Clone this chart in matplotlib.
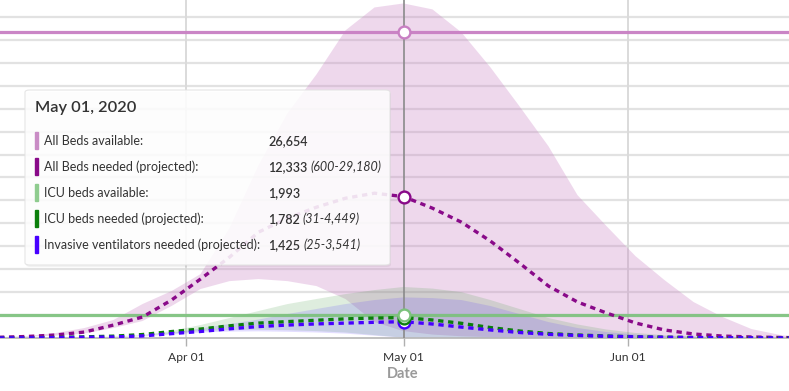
import numpy as np
import matplotlib
matplotlib.use('Agg')
import matplotlib.pyplot as plt
import matplotlib.dates as mdates
from matplotlib.patches import FancyBboxPatch

plt.rcParams['font.family'] = ['Lato', 'DejaVu Sans']

# sampled dates (every 4 days)
dates = np.array(['2020-03-06', '2020-03-10', '2020-03-14', '2020-03-18', '2020-03-22',
                  '2020-03-26', '2020-03-30', '2020-04-03', '2020-04-07', '2020-04-11',
                  '2020-04-15', '2020-04-19', '2020-04-23', '2020-04-27', '2020-05-01',
                  '2020-05-05', '2020-05-09', '2020-05-13', '2020-05-17', '2020-05-21',
                  '2020-05-25', '2020-05-29', '2020-06-02', '2020-06-06', '2020-06-10',
                  '2020-06-14', '2020-06-18', '2020-06-22', '2020-06-24'], dtype='datetime64[D]')

beds_needed = [60, 130, 260, 520, 1130, 1830, 3310, 5140, 7050, 9230, 10450, 11410, 12190, 12630, 12333,
               11320, 10100, 8450, 6530, 4530, 3140, 2180, 1310, 700, 350, 170, 90, 45, 30]
beds_upper = [60, 170, 430, 870, 1570, 2960, 4090, 5570, 9580, 15070, 19600, 22990, 26830, 28830, 29180,
              28660, 26650, 23600, 20210, 16720, 12460, 9760, 7140, 5050, 3140, 1830, 780, 260, 90]
beds_lower = [40, 100, 210, 400, 870, 1480, 2790, 4270, 4960, 5140, 4960, 4530, 3400, 1390, 600,
              300, 150, 80, 40, 20, 10, 10, 10, 10, 10, 10, 10, 10, 10]

icu_needed = [10, 25, 50, 100, 160, 300, 560, 780, 1060, 1300, 1430, 1550, 1670, 1740, 1782,
              1570, 1280, 910, 610, 390, 260, 175, 105, 70, 45, 30, 20, 12, 10]
icu_upper = [10, 20, 30, 45, 130, 260, 610, 1130, 1740, 2350, 2960, 3400, 3830, 4180, 4449,
             4310, 4000, 3310, 2530, 1740, 1180, 740, 440, 245, 130, 70, 35, 17, 10]
icu_lower = [5, 10, 20, 40, 90, 180, 380, 600, 700, 720, 680, 600, 480, 250, 31,
             15, 8, 5, 5, 5, 5, 5, 5, 5, 5, 5, 5, 5, 5]

vent_needed = [5, 15, 30, 60, 90, 180, 380, 570, 800, 1000, 1130, 1230, 1300, 1370, 1425,
               1220, 950, 700, 480, 320, 220, 150, 95, 60, 38, 25, 15, 10, 8]
vent_upper = [8, 15, 20, 30, 90, 175, 440, 830, 1220, 1610, 2090, 2530, 2960, 3310, 3541,
              3480, 3310, 2790, 2090, 1390, 870, 520, 300, 175, 90, 45, 20, 10, 8]
vent_lower = [4, 8, 15, 30, 70, 140, 300, 480, 560, 580, 540, 480, 380, 200, 25,
              12, 6, 4, 4, 4, 4, 4, 4, 4, 4, 4, 4, 4, 4]

beds_available = 26654
icu_available = 1993
sel_date = np.datetime64('2020-05-01')

tick_dates = np.array(['2020-04-01', '2020-05-01', '2020-06-01'], dtype='datetime64[D]')
tick_labels = ['Apr 01', 'May 01', 'Jun 01']

tip_title = 'May 01, 2020'
tip_labels = ['All Beds available:', 'All Beds needed (projected):', 'ICU beds available:',
              'ICU beds needed (projected):', 'Invasive ventilators needed (projected):']
tip_values = ['26,654', '12,333', '1,993', '1,782', '1,425']
tip_ranges = ['', '(600-29,180)', '', '(31-4,449)', '(25-3,541)']

c_bavail = '#c87fc3'
c_bneed = '#890a89'
c_iavail = '#7cc27c'
c_ineed = '#0b7f0b'
c_vent = '#4700ff'

W, H = 789, 391
fig = plt.figure(figsize=(W / 100, H / 100), dpi=100)
ax = fig.add_axes([0, 53 / H, 1, 1 - 53 / H])


def px(x, y):
    return x / W, 1 - y / H


d = dates.astype('datetime64[ms]').astype(object)
d = mdates.date2num(d)

# grid
for g in range(2000, 29000, 2000):
    ax.axhline(g, color='#e2e2e2', lw=1.6, zorder=0)
for t in [tick_dates[0], tick_dates[2]]:
    ax.axvline(mdates.date2num(t.astype(object)), color='#dadada', lw=1.4, zorder=0)

# bands
ax.fill_between(d, beds_lower, beds_upper, color=c_bavail, alpha=0.3, lw=0, zorder=1)
ax.fill_between(d, icu_lower, icu_upper, color='#3c9a3c', alpha=0.17, lw=0, zorder=1)
ax.fill_between(d, vent_lower, vent_upper, color='#5a3cff', alpha=0.17, lw=0, zorder=1)

# available capacity
ax.axhline(beds_available, color=c_bavail, lw=2.3, alpha=0.95, zorder=2)
ax.axhline(icu_available, color=c_iavail, lw=2.3, alpha=0.9, zorder=2)

# projections
ax.plot(d, beds_needed, color=c_bneed, lw=2.4, linestyle=(0, (1.6, 1.4)), dash_capstyle='butt', zorder=3)
ax.plot(d, icu_needed, color=c_ineed, lw=2.4, linestyle=(0, (1.6, 1.4)), dash_capstyle='butt', zorder=3)
ax.plot(d, vent_needed, color=c_vent, lw=2.4, linestyle=(0, (1.6, 1.4)), dash_capstyle='butt', zorder=3)

# crosshair and markers
sx = mdates.date2num(sel_date.astype(object))
ax.axvline(sx, color='#8a8a8a', lw=1.2, zorder=4)
idx = list(dates).index(sel_date)
mk = dict(marker='o', ms=8.5, mfc='white', mew=1.7, zorder=6, clip_on=False)
ax.plot([sx], [beds_available], mec=c_bavail, **mk)
ax.plot([sx], [beds_needed[idx]], mec=c_bneed, **mk)
ax.plot([sx], [vent_needed[idx]], mec=c_vent, **mk)
ax.plot([sx], [icu_needed[idx]], mec=c_ineed, **mk)
ax.plot([sx], [icu_available], mec=c_iavail, **mk)

x0 = mdates.date2num(np.datetime64('2020-04-01').astype(object)) - 186 / 7.25
x1 = x0 + W / 7.25
ax.set_xlim(x0, x1)
ax.set_ylim(0, 29480)
for s in ['top', 'left', 'right']:
    ax.spines[s].set_visible(False)
ax.spines['bottom'].set_color('#b5b5b5')
ax.spines['bottom'].set_linewidth(1.2)
ax.set_yticks([])
ax.set_xticks([mdates.date2num(t.astype(object)) for t in tick_dates])
ax.set_xticklabels(tick_labels, fontsize=8.7, color='#333333')
ax.tick_params(axis='x', length=6, color='#b0b0b0', width=1, pad=4)
fig.text(*px(403, 374), 'Date', ha='center', va='center', fontsize=10.5,
         fontweight='bold', color='#9a9a9a')

# tooltip
bx, by = px(25, 265)
bw, bh = 365 / W, 175 / H
shadow = FancyBboxPatch((bx + 1 / W, by - 2 / H), bw, bh, boxstyle='round,pad=0,rounding_size=0.006',
                        transform=fig.transFigure, facecolor='#000000', edgecolor='none',
                        alpha=0.05, zorder=9)
fig.patches.append(shadow)
box = FancyBboxPatch((bx, by), bw, bh, boxstyle='round,pad=0,rounding_size=0.006',
                     transform=fig.transFigure, facecolor='white', edgecolor='#e2e2e2',
                     lw=0.8, alpha=0.88, zorder=10)
fig.patches.append(box)
fig.text(*px(35, 108), tip_title, fontsize=11.8, fontweight='semibold', color='#333333',
         va='center', zorder=11)
bar_colors = ['#c98cc5', c_bneed, '#8fcc8f', c_ineed, c_vent]
rows_y = [141, 167, 193, 219, 245]
renderer = fig.canvas.get_renderer()
for i in range(len(tip_labels)):
    y = rows_y[i]
    fig.patches.append(plt.Rectangle(px(35, y + 8), 3 / W, 17 / H, transform=fig.transFigure,
                                     color=bar_colors[i], zorder=11))
    fig.text(*px(44, y), tip_labels[i], fontsize=9.0, color='#333333', va='center', zorder=11)
    tv = fig.text(*px(268, y), tip_values[i], fontsize=9.0, fontweight='semibold', color='#333333',
                  va='center', zorder=11)
    if tip_ranges[i]:
        ext = tv.get_window_extent(renderer=renderer)
        fig.text(ext.x1 / W + 3 / W, px(0, y)[1], tip_ranges[i], fontsize=9.0, style='italic',
                 color='#333333', va='center', zorder=11)

fig.savefig('out.png', dpi=100)
